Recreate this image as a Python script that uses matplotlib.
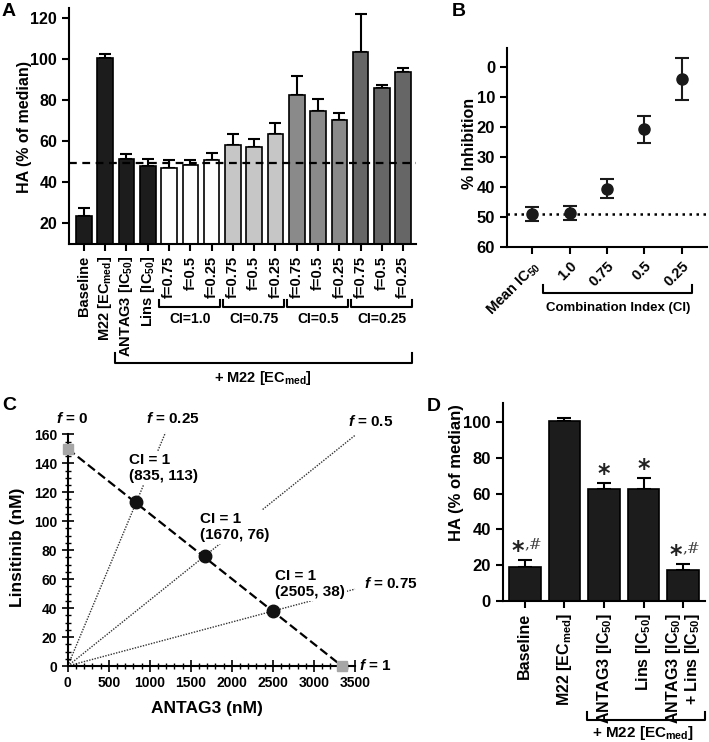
import matplotlib
matplotlib.use("Agg")
import matplotlib.pyplot as plt
import matplotlib.transforms as mtrans
import numpy as np

plt.rcParams['font.family'] = ['Liberation Sans', 'DejaVu Sans']
plt.rcParams['font.weight'] = 'bold'
plt.rcParams['axes.labelweight'] = 'bold'
plt.rcParams['mathtext.fontset'] = 'custom'
plt.rcParams['mathtext.rm'] = 'Liberation Sans:bold'
plt.rcParams['mathtext.it'] = 'Liberation Sans:italic:bold'
plt.rcParams['mathtext.bf'] = 'Liberation Sans:bold'
plt.rcParams['mathtext.default'] = 'regular'
plt.rcParams['axes.linewidth'] = 1.5

# ---------------- data ----------------
# Panel A
a_labels = ["Baseline", "M22 [EC$_{med}$]", "ANTAG3 [IC$_{50}$]", "Lins [IC$_{50}$]",
            "f=0.75", "f=0.5", "f=0.25",
            "f=0.75", "f=0.5", "f=0.25",
            "f=0.75", "f=0.5", "f=0.25",
            "f=0.75", "f=0.5", "f=0.25"]
a_values = [23.6, 100.5, 51.4, 48.0,
            46.8, 48.3, 50.7,
            58.4, 57.2, 63.8,
            82.6, 74.8, 70.5,
            103.6, 86.2, 93.7]
a_err = [3.7, 2.3, 2.3, 3.5,
         4.0, 2.6, 3.8,
         5.4, 4.1, 5.0,
         9.3, 6.0, 3.2,
         18.4, 1.3, 2.3]
a_colors = ['#1c1c1c'] * 4 + ['#ffffff'] * 3 + ['#c6c6c6'] * 3 + ['#8a8a8a'] * 3 + ['#666666'] * 3
a_groups = ["CI=1.0", "CI=0.75", "CI=0.5", "CI=0.25"]
a_ref = 49.5

# Panel B
b_labels = ["Mean IC$_{50}$", "1.0", "0.75", "0.5", "0.25"]
b_values = [49.0, 48.8, 40.6, 20.9, 4.0]
b_err = [2.2, 2.3, 3.1, 4.4, 7.0]
b_ref = 49.0

# Panel C
c_fractions = ["0", "0.25", "0.5", "0.75", "1"]
c_antag = [835, 1670, 2505]
c_lins = [113, 76, 38]
c_ic50_antag = 3340
c_ic50_lins = 150

# Panel D
d_labels = ["Baseline", "M22 [EC$_{med}$]", "ANTAG3 [IC$_{50}$]", "Lins [IC$_{50}$]",
            "ANTAG3 [IC$_{50}$]\n+ Lins [IC$_{50}$]"]
d_values = [19.3, 100.5, 62.7, 62.9, 17.2]
d_err = [3.4, 1.8, 3.2, 6.0, 3.5]
d_marks = ["*,#", "", "*", "*", "*,#"]

# ---------------- figure ----------------
W, H = 709, 742
fig = plt.figure(figsize=(W / 100, H / 100), dpi=100)


def rect(l, t, r, b):
    return [l / W, 1 - b / H, (r - l) / W, (b - t) / H]


def fy(y):
    return 1 - y / H


def fx(x):
    return x / W


def bracket(ax, x0, x1, ytop, ybot, text, ytext, xtext, fs):
    tr = mtrans.blended_transform_factory(ax.transData, fig.transFigure)
    ax.plot([x0, x0, x1, x1], [fy(ytop), fy(ybot), fy(ybot), fy(ytop)],
            color='black', lw=1.5, transform=tr, clip_on=False)
    ax.text(xtext, fy(ytext), text, transform=tr, ha='center', va='center',
            fontsize=fs, fontweight='bold')


def style(ax):
    for s in ['top', 'right']:
        ax.spines[s].set_visible(False)
    ax.tick_params(width=1.5, length=5, direction='out')


# ---------------- Panel A ----------------
axA = fig.add_axes(rect(69, 8, 416, 244))
style(axA)
xa = np.arange(len(a_values))
axA.bar(xa, a_values, width=0.73, color=a_colors, edgecolor='black', linewidth=1.2, zorder=2)
axA.errorbar(xa, a_values, yerr=[np.zeros(len(a_err)), a_err], fmt='none',
             ecolor='black', elinewidth=1.5, capsize=4.5, capthick=1.5, zorder=1)
axA.axhline(a_ref, color='black', ls=(0, (3.5, 2.5)), lw=1.6, zorder=3)
axA.set_xlim(-0.7, 15.6)
axA.set_ylim(10, 125)
axA.set_yticks([20, 40, 60, 80, 100, 120])
axA.tick_params(axis='y', labelsize=11.5)
axA.set_xticks(xa)
axA.set_xticklabels(a_labels, rotation=90, fontsize=10.5, fontweight='bold')
for i, g in enumerate(a_groups):
    s = 4 + 3 * i
    bracket(axA, s - 0.45, s + 2.4, 300, 307, g, 318.5, s + 1, 10)
bracket(axA, 1.45, 15.4, 353, 363, "+ M22 [EC$_{med}$]", 378, 8.4, 10.5)
fig.text(fx(25), fy(127), "HA (% of median)", rotation=90, ha='center', va='center',
         fontsize=11.5, fontweight='bold')
fig.text(fx(2), fy(12), "A", fontsize=14, fontweight='bold', ha='left', va='center')

# ---------------- Panel B ----------------
axB = fig.add_axes(rect(507, 48, 707, 247))
style(axB)
xb = np.arange(len(b_values))
axB.errorbar(xb, b_values, yerr=b_err, fmt='o', color='#1a1a1a', ms=8,
             ecolor='#1a1a1a', elinewidth=1.5, capsize=5, capthick=1.5, zorder=3)
axB.axhline(b_ref, color='black', ls=(0, (1, 1.8)), lw=1.8, zorder=1)
axB.set_xlim(-0.68, 4.68)
axB.set_ylim(60, -6.2)
axB.set_yticks([0, 10, 20, 30, 40, 50, 60])
axB.tick_params(axis='y', labelsize=12)
axB.set_xticks(xb)
axB.set_xticklabels(b_labels, rotation=45, ha='right', rotation_mode='anchor',
                    fontsize=10.5, fontweight='bold')
bracket(axB, 0.29, 4.28, 285, 293, "Combination Index (CI)", 307.5, 2.29, 9.5)
fig.text(fx(469), fy(143), "% Inhibition", rotation=90, ha='center', va='center',
         fontsize=11.5, fontweight='bold')
fig.text(fx(452), fy(12), "B", fontsize=14, fontweight='bold', ha='left', va='center')

# ---------------- Panel C ----------------
axC = fig.add_axes(rect(67.7, 434.3, 355, 666))
for s in ['top', 'right']:
    axC.spines[s].set_visible(False)
axC.set_xlim(0, 3500)
axC.set_ylim(0, 160)
axC.set_xticks(np.arange(0, 3501, 500))
axC.set_yticks(np.arange(0, 161, 20))
axC.set_xticks(np.arange(0, 3501, 100), minor=True)
axC.set_yticks(np.arange(0, 161, 5), minor=True)
axC.tick_params(which='major', direction='inout', length=8, width=1.2, labelsize=10)
axC.tick_params(which='minor', direction='inout', length=5, width=1.0)
# isobologram line
axC.plot([0, c_ic50_antag], [c_ic50_lins, 0], color='black', ls=(0, (4, 1.8)), lw=1.6, zorder=3)
# fraction rays
ray_ends = [1190, 3500, 3500]
for xa_, yl_, xe in zip(c_antag, c_lins, ray_ends):
    slope = yl_ / xa_
    axC.plot([0, xe], [0, slope * xe], color='#333333', ls=(0, (1, 1)), lw=1.0,
             zorder=1, clip_on=False)
axC.plot([0, c_ic50_antag], [c_ic50_lins, 0], 's', color='#a6a6a6', ms=7,
         zorder=5, clip_on=False)
axC.plot(c_antag, c_lins, 'o', color='#111111', ms=9, zorder=5)
ann_pos = [(748, 147), (1615, 106), (2530, 67)]
for (tx, ty), xa_, yl_ in zip(ann_pos, c_antag, c_lins):
    axC.text(tx, ty, f"CI = 1\n({xa_}, {yl_})", ha='left', va='top', fontsize=11,
             fontweight='bold', linespacing=1.15, zorder=4,
             bbox=dict(facecolor='white', edgecolor='none', pad=1.5))
f_label_px = [(72, 418), (173, 418), (371, 421.5), (391, 584), (375, 665)]
for (px, py), fr in zip(f_label_px, c_fractions):
    fig.text(fx(px), fy(py), r"$\mathit{f}$ = " + fr, ha='center', va='center',
             fontsize=11, fontweight='bold')
fig.text(fx(18), fy(547), "Linsitinib (nM)", rotation=90, ha='center', va='center',
         fontsize=12.5, fontweight='bold')
fig.text(fx(207), fy(708), "ANTAG3 (nM)", ha='center', va='center',
         fontsize=12.5, fontweight='bold')
fig.text(fx(2), fy(405), "C", fontsize=14, fontweight='bold', ha='left', va='center')

# ---------------- Panel D ----------------
axD = fig.add_axes(rect(502.7, 403.3, 705, 601))
style(axD)
xd = np.arange(len(d_values))
axD.bar(xd, d_values, width=0.8, color='#1c1c1c', edgecolor='black', linewidth=1.2, zorder=2)
axD.errorbar(xd, d_values, yerr=[np.zeros(len(d_err)), d_err], fmt='none',
             ecolor='black', elinewidth=1.5, capsize=5, capthick=1.5, zorder=1)
axD.set_xlim(-0.56, 4.55)
axD.set_ylim(0, 110.6)
axD.set_yticks([0, 20, 40, 60, 80, 100])
axD.tick_params(axis='y', labelsize=12)
axD.set_xticks(xd)
axD.set_xticklabels(d_labels, rotation=90, fontsize=11.5, fontweight='bold',
                    multialignment='right', linespacing=1.0)
for i, m in enumerate(d_marks):
    if not m:
        continue
    top = d_values[i] + d_err[i]
    if m == "*":
        axD.text(i, top + 5, "*", ha='center', va='center', fontsize=17,
                 fontfamily='DejaVu Sans', fontweight='bold', color='#222222')
    else:
        axD.text(i - 0.02, top + 5, "*", ha='right', va='center', fontsize=17,
                 fontfamily='DejaVu Sans', fontweight='bold', color='#222222')
        axD.text(i - 0.02, top + 9, ",#", ha='left', va='center', fontsize=11,
                 fontfamily='DejaVu Serif', fontweight='normal', color='#444444')
bracket(axD, 1.56, 4.56, 711.7, 720, "+ M22 [EC$_{med}$]", 732.5, 2.99, 11)
fig.text(fx(456), fy(473), "HA (% of median)", rotation=90, ha='center', va='center',
         fontsize=12, fontweight='bold')
fig.text(fx(427), fy(407), "D", fontsize=14, fontweight='bold', ha='left', va='center')

fig.savefig("out.png", dpi=100)
